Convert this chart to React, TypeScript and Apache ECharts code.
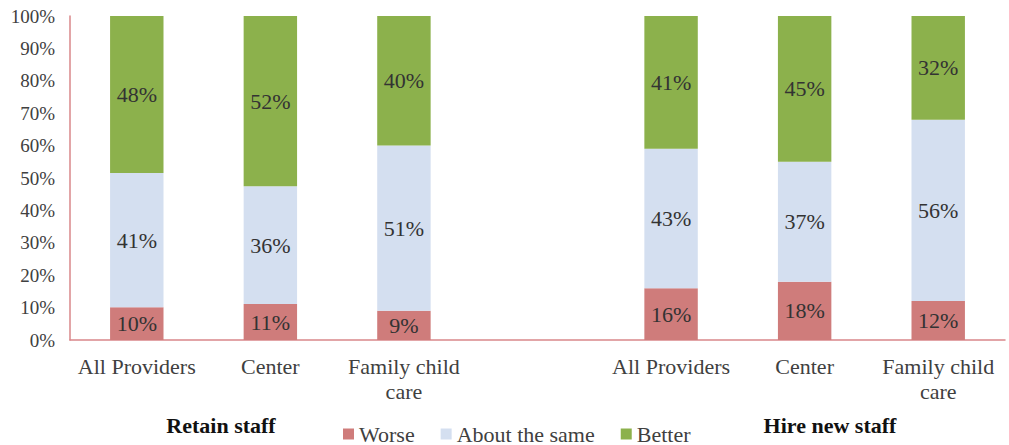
import React, { useEffect, useRef } from "react";
import * as echarts from "echarts";

const categories = ["All Providers", "Center", "Family child\ncare", "", "All Providers", "Center", "Family child\ncare"];
const worse = [10, 11, 9, null, 16, 18, 12];
const aboutSame = [41, 36, 51, null, 43, 37, 56];
const better = [48, 52, 40, null, 41, 45, 32];
const seriesNames = ["Worse", "About the same", "Better"];
const groupTitles = ["Retain staff", "Hire new staff"];

const colors = ["#cf7c7b", "#d4dff0", "#8cb14c"];
const FONT = "Liberation Serif";

export default function App() {
  const ref = useRef<HTMLDivElement>(null);
  useEffect(() => {
    if (!ref.current) return;
    const chart = echarts.init(ref.current, undefined, { renderer: "svg" });
    const raw = [worse, aboutSame, better];
    const totals = categories.map((_, i) =>
      raw.reduce((s, arr) => s + (arr[i] == null ? 0 : (arr[i] as number)), 0)
    );
    const series = raw.map((arr, k) => ({
      name: seriesNames[k],
      type: "bar",
      stack: "total",
      barWidth: "40%",
      itemStyle: { color: colors[k] },
      label: {
        show: true,
        position: "inside",
        fontFamily: FONT,
        fontSize: 22,
        color: "#333",
        formatter: (p: any) => (arr[p.dataIndex] == null ? "" : arr[p.dataIndex] + "%"),
      },
      data: arr.map((v, i) => (v == null ? null : (v / totals[i]) * 100)),
    }));
    chart.setOption({
      animation: false,
      grid: { left: 70, right: 4, top: 16, bottom: 105 },
      legend: {
        data: seriesNames,
        top: 418,
        left: 338,
        itemWidth: 11,
        itemHeight: 11,
        itemGap: 26,
        icon: "rect",
        textStyle: { fontFamily: FONT, fontSize: 22, color: "#404040" },
      },
      xAxis: {
        type: "category",
        data: categories,
        axisLine: { lineStyle: { color: "#d9878a", width: 1.5 } },
        axisTick: { show: false },
        axisLabel: {
          interval: 0,
          margin: 14,
          fontFamily: FONT,
          fontSize: 22,
          color: "#404040",
          lineHeight: 25,
        },
      },
      yAxis: {
        type: "value",
        min: 0,
        max: 100,
        interval: 10,
        splitLine: { show: false },
        axisLine: { show: true, lineStyle: { color: "#d9878a", width: 1.5 } },
        axisTick: { show: false },
        axisLabel: {
          formatter: "{value}%",
          fontFamily: FONT,
          fontSize: 19,
          color: "#404040",
          margin: 15,
        },
      },
      graphic: [
        {
          type: "text",
          x: 221,
          y: 425,
          style: {
            text: groupTitles[0],
            fontFamily: FONT,
            fontSize: 22,
            fontWeight: "bold",
            fill: "#111",
            align: "center",
            verticalAlign: "middle",
          },
        },
        {
          type: "text",
          x: 830,
          y: 425,
          style: {
            text: groupTitles[1],
            fontFamily: FONT,
            fontSize: 22,
            fontWeight: "bold",
            fill: "#111",
            align: "center",
            verticalAlign: "middle",
          },
        },
      ],
      series,
    });
    return () => chart.dispose();
  }, []);
  return (
    <div
      ref={ref}
      style={{ position: "fixed", left: 0, top: 0, width: 1009, height: 445, background: "#fff" }}
    />
  );
}
